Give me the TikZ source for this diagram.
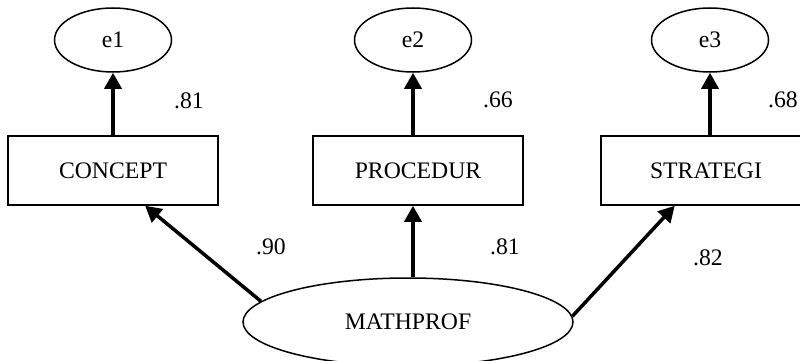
\documentclass[tikz,border=0pt]{standalone}
\usepackage{fontspec}
\setmainfont{Liberation Serif}
\usetikzlibrary{shapes.geometric,arrows.meta,calc}
\tikzset{
  errterm/.style={ellipse,draw,line width=1.5pt,minimum width=117pt,minimum height=64pt,inner sep=0pt},
  latent/.style={ellipse,draw,line width=1.5pt,minimum width=330pt,minimum height=88pt,inner sep=0pt},
  observed/.style={rectangle,draw,line width=1.5pt,minimum width=210pt,minimum height=69pt,inner sep=0pt},
  path arrow/.style={line width=3.5pt,-{Triangle[length=16pt,width=17pt]}},
  coef/.style={inner sep=0pt}
}
\begin{document}
\begin{tikzpicture}[x=1pt,y=-1pt,font=\fontsize{23.7}{26}\selectfont]
  \useasboundingbox (0,0) rectangle (800,361);
  \clip (0,0) rectangle (800,361);

  % error terms
  \node[errterm] (e1) at (113,40) {e1};
  \node[errterm] (e2) at (413,40) {e2};
  \node[errterm] (e3) at (710,40) {e3};

  % observed indicators
  \node[observed] (c) at (113,170.5) {CONCEPT};
  \node[observed] (p) at (418,170.5) {PROCEDUR};
  \node[observed] (s) at (706,170.5) {STRATEGI};

  % latent factor
  \node[latent] (m) at (408,322) {\raisebox{-9pt}{MATHPROF}};

  % residual paths
  \draw[path arrow] (c.north -| e1) -- (e1.south);
  \draw[path arrow] (p.north -| e2) -- (e2.south);
  \draw[path arrow] (s.north -| e3) -- (e3.south);

  % factor loadings
  \draw[path arrow] (m.172) -- ($(c.south west)!0.652!(c.south east)$);
  \draw[path arrow] (e2 |- m.north) -- (p.south -| e2);
  \draw[path arrow] (m.2) -- ($(s.south west)!0.352!(s.south east)$);

  % coefficients
  \node[coef] (r1) at (189,101) {.81};
  \node[coef] (r2) at (498,100) {.66};
  \node[coef] (r3) at (783,100) {.68};
  \node[coef] (l1) at (271,247) {.90};
  \node[coef] (l2) at (505,247) {.81};
  \node[coef] (l3) at (708,258) {.82};
\end{tikzpicture}
\end{document}
